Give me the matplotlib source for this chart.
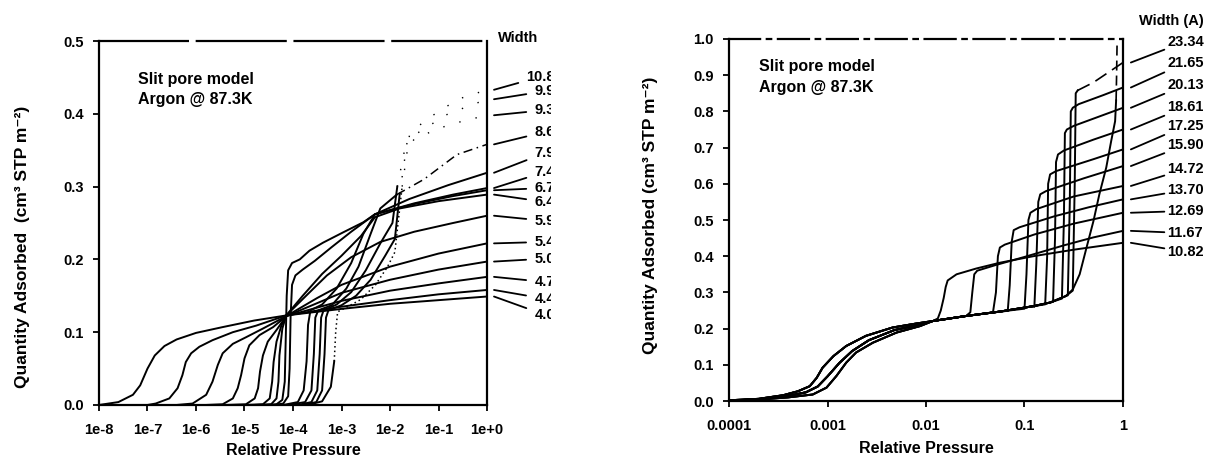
import matplotlib.pyplot as plt
import numpy as np
from matplotlib.ticker import NullLocator
from matplotlib.transforms import Bbox, TransformedBbox

plt.rcParams['font.family'] = ['Liberation Sans', 'DejaVu Sans']
plt.rcParams['font.weight'] = 'bold'
plt.rcParams['axes.labelweight'] = 'bold'

# ---------------- left panel: slit pores 4.0 - 10.8 A (log10 P/P0, quantity)
w40_lp = [-8.0, -7.6, -7.3, -7.15, -7.0, -6.85, -6.65, -6.4, -6.0, -5.45, -4.8, -4.14, -3.0, -2.0, -1.0, 0.0]
w40_q = [0.0, 0.004, 0.014, 0.027, 0.05, 0.068, 0.081, 0.09, 0.099, 0.107, 0.116, 0.123, 0.132, 0.139, 0.144, 0.149]
w44_lp = [-8.0, -7.0, -6.83, -6.55, -6.38, -6.28, -6.21, -6.10, -5.93, -5.66, -5.24, -4.76, -4.14, -3.0, -2.0, -1.0, 0.0]
w44_q = [0.0, 0.0, 0.002, 0.009, 0.023, 0.041, 0.059, 0.071, 0.080, 0.089, 0.100, 0.109, 0.123, 0.135, 0.144, 0.152, 0.158]
w47_lp = [-8.0, -6.4, -6.07, -5.79, -5.66, -5.55, -5.45, -5.24, -4.97, -4.62, -4.14, -3.0, -2.0, -1.0, 0.0]
w47_q = [0.0, 0.0, 0.002, 0.014, 0.032, 0.055, 0.071, 0.084, 0.093, 0.105, 0.122, 0.143, 0.157, 0.167, 0.176]
w50_lp = [-8.0, -5.8, -5.45, -5.24, -5.14, -5.07, -5.0, -4.9, -4.69, -4.41, -4.14, -3.0, -2.0, -1.0, 0.0]
w50_q = [0.0, 0.0, 0.001, 0.009, 0.023, 0.041, 0.064, 0.082, 0.096, 0.107, 0.122, 0.154, 0.172, 0.186, 0.197]
w54_lp = [-8.0, -5.4, -4.97, -4.79, -4.72, -4.68, -4.62, -4.52, -4.34, -4.14, -3.5, -3.0, -2.0, -1.0, 0.0]
w54_q = [0.0, 0.0, 0.001, 0.009, 0.023, 0.046, 0.068, 0.087, 0.103, 0.122, 0.147, 0.165, 0.19, 0.208, 0.222]
w59_lp = [-8.0, -5.0, -4.62, -4.48, -4.43, -4.40, -4.34, -4.24, -4.14, -3.7, -3.3, -2.8, -2.2, -1.5, -0.7, 0.0]
w59_q = [0.0, 0.0, 0.001, 0.009, 0.032, 0.059, 0.087, 0.109, 0.123, 0.152, 0.178, 0.203, 0.224, 0.238, 0.25, 0.26]
w64_lp = [-8.0, -4.8, -4.45, -4.34, -4.30, -4.28, -4.22, -4.14, -3.8, -3.4, -3.0, -2.6, -2.31, -1.8, -1.0, 0.0]
w64_q = [0.0, 0.0, 0.001, 0.009, 0.032, 0.068, 0.105, 0.123, 0.15, 0.18, 0.205, 0.232, 0.258, 0.27, 0.28, 0.289]
w67_lp = [-8.0, -4.6, -4.34, -4.22, -4.17, -4.15, -4.13, -4.10, -4.02, -3.86, -3.66, -3.38, -2.97, -2.55, -2.31, -1.5, -0.7, 0.0]
w67_q = [0.0, 0.0, 0.001, 0.007, 0.032, 0.09, 0.15, 0.185, 0.195, 0.2, 0.212, 0.223, 0.237, 0.251, 0.262, 0.276, 0.287, 0.295]
w74_lp = [-8.0, -4.4, -4.2, -4.1, -4.07, -4.05, -4.02, -3.95, -3.8, -3.55, -3.2, -2.8, -2.31, -1.5, -0.7, 0.0]
w74_q = [0.0, 0.0, 0.002, 0.012, 0.05, 0.12, 0.165, 0.178, 0.186, 0.198, 0.217, 0.238, 0.262, 0.277, 0.289, 0.298]
w79_lp = [-8.0, -4.2, -3.9, -3.78, -3.72, -3.69, -3.64, -3.4, -3.1, -2.8, -2.55, -2.31, -1.6, -0.8, 0.0]
w79_q = [0.0, 0.0, 0.004, 0.02, 0.06, 0.11, 0.13, 0.138, 0.16, 0.195, 0.235, 0.262, 0.283, 0.302, 0.319]
w86_lp = [-8.0, -4.1, -3.75, -3.62, -3.57, -3.54, -3.48, -3.2, -2.9, -2.65, -2.4, -2.2, -1.86, -1.3, -0.62, 0.0]
w86_q = [0.0, 0.0, 0.004, 0.02, 0.07, 0.12, 0.13, 0.137, 0.16, 0.19, 0.235, 0.27, 0.289, 0.31, 0.344, 0.358]
w93_lp = [-8.0, -3.9, -3.62, -3.5, -3.45, -3.42, -3.37, -3.1, -2.8, -2.5, -2.2, -1.95, -1.85, -1.7, -1.5, -1.0, -0.5, 0.0]
w93_q = [0.0, 0.0, 0.004, 0.02, 0.07, 0.12, 0.13, 0.138, 0.155, 0.185, 0.222, 0.25, 0.30, 0.35, 0.365, 0.38, 0.39, 0.398]
w99_lp = [-8.0, -3.8, -3.52, -3.4, -3.35, -3.32, -3.27, -3.0, -2.7, -2.4, -2.1, -1.9, -1.8, -1.65, -1.4, -0.8, 0.0]
w99_q = [0.0, 0.0, 0.004, 0.02, 0.07, 0.12, 0.13, 0.137, 0.15, 0.172, 0.205, 0.228, 0.29, 0.36, 0.375, 0.40, 0.42]
w108_lp = [-8.0, -3.7, -3.4, -3.22, -3.15, -3.12, -3.08, -2.9, -2.6, -2.3, -2.05, -1.9, -1.75, -1.6, -1.3, -0.6, 0.0]
w108_q = [0.0, 0.0, 0.005, 0.025, 0.06, 0.1, 0.128, 0.134, 0.145, 0.165, 0.19, 0.21, 0.3, 0.37, 0.39, 0.42, 0.433]

left_widths = ['10.8', '9.9', '9.3', '8.6', '7.9', '7.4', '6.7', '6.4', '5.9', '5.4', '5.0', '4.7', '4.4', '4.0']
left_lp = [w108_lp, w99_lp, w93_lp, w86_lp, w79_lp, w74_lp, w67_lp, w64_lp, w59_lp, w54_lp, w50_lp, w47_lp, w44_lp, w40_lp]
left_q = [w108_q, w99_q, w93_q, w86_q, w79_q, w74_q, w67_q, w64_q, w59_q, w54_q, w50_q, w47_q, w44_q, w40_q]
left_xticks = ['1e-8', '1e-7', '1e-6', '1e-5', '1e-4', '1e-3', '1e-2', '1e-1', '1e+0']

# ---------------- right panel: slit pores 10.82 - 23.34 A
band_a_lp = [-4.0, -3.7, -3.45, -3.3, -3.18, -3.11, -3.05, -2.94, -2.81, -2.61, -2.34, -2.1]
band_a_q = [0.002, 0.006, 0.016, 0.027, 0.041, 0.064, 0.092, 0.124, 0.152, 0.18, 0.203, 0.214]
band_b_lp = [-4.0, -3.7, -3.42, -3.22, -3.1, -3.0, -2.88, -2.75, -2.58, -2.32, -2.08]
band_b_q = [0.001, 0.005, 0.013, 0.024, 0.04, 0.068, 0.105, 0.138, 0.168, 0.196, 0.21]
band_c_lp = [-4.0, -3.7, -3.4, -3.15, -3.01, -2.91, -2.81, -2.71, -2.54, -2.30, -2.06]
band_c_q = [0.001, 0.004, 0.01, 0.018, 0.037, 0.069, 0.106, 0.134, 0.161, 0.189, 0.207]
shelf_lp = [-1.93, -1.59, -1.25, -0.91, -0.74, -0.58, -0.51]
shelf_q = [0.221, 0.235, 0.247, 0.262, 0.272, 0.29, 0.308]

r1082_lp = [-1.88, -1.85, -1.82, -1.8, -1.78, -1.69, -1.49, -1.25, -0.91, -0.5, 0.0]
r1082_q = [0.228, 0.25, 0.285, 0.315, 0.333, 0.35, 0.366, 0.382, 0.40, 0.418, 0.437]
r1167_lp = [-1.58, -1.55, -1.53, -1.51, -1.48, -1.3, -1.0, -0.6, -0.3, 0.0]
r1167_q = [0.238, 0.245, 0.3, 0.35, 0.36, 0.375, 0.398, 0.43, 0.452, 0.47]
r1269_lp = [-1.32, -1.29, -1.27, -1.25, -1.2, -0.9, -0.5, 0.0]
r1269_q = [0.245, 0.3, 0.4, 0.424, 0.432, 0.46, 0.49, 0.52]
r1370_lp = [-1.17, -1.15, -1.13, -1.11, -1.05, -0.7, -0.35, 0.0]
r1370_q = [0.249, 0.32, 0.44, 0.472, 0.48, 0.51, 0.535, 0.557]
r1472_lp = [-1.0, -0.98, -0.96, -0.94, -0.88, -0.5, 0.0]
r1472_q = [0.255, 0.35, 0.5, 0.52, 0.53, 0.565, 0.594]
r1590_lp = [-0.9, -0.88, -0.86, -0.84, -0.78, -0.4, 0.0]
r1590_q = [0.26, 0.38, 0.55, 0.571, 0.58, 0.615, 0.649]
r1725_lp = [-0.79, -0.77, -0.76, -0.74, -0.68, -0.3, 0.0]
r1725_q = [0.267, 0.4, 0.6, 0.626, 0.635, 0.668, 0.695]
r1861_lp = [-0.71, -0.69, -0.68, -0.66, -0.6, -0.3, 0.0]
r1861_q = [0.274, 0.45, 0.66, 0.681, 0.692, 0.722, 0.75]
r2013_lp = [-0.62, -0.60, -0.59, -0.57, -0.5, -0.25, 0.0]
r2013_q = [0.283, 0.5, 0.74, 0.75, 0.76, 0.785, 0.81]
r2165_lp = [-0.56, -0.54, -0.53, -0.51, -0.45, -0.2, 0.0]
r2165_q = [0.292, 0.55, 0.80, 0.81, 0.82, 0.845, 0.866]
r2334_lp = [-0.51, -0.49, -0.48, -0.46, -0.3, 0.0]
r2334_q = [0.305, 0.6, 0.85, 0.858, 0.88, 0.935]
rwide_lp = [-0.44, -0.37, -0.30, -0.24, -0.17, -0.12, -0.08, -0.07, -0.065, -0.06]
rwide_q = [0.35, 0.424, 0.497, 0.571, 0.645, 0.718, 0.773, 0.83, 0.9, 0.99]

right_widths = ['23.34', '21.65', '20.13', '18.61', '17.25', '15.90', '14.72', '13.70', '12.69', '11.67', '10.82']
right_lp = [r2334_lp, r2165_lp, r2013_lp, r1861_lp, r1725_lp, r1590_lp, r1472_lp, r1370_lp, r1269_lp, r1167_lp, r1082_lp]
right_q = [r2334_q, r2165_q, r2013_q, r1861_q, r1725_q, r1590_q, r1472_q, r1370_q, r1269_q, r1167_q, r1082_q]
right_xticks = ['0.0001', '0.001', '0.01', '0.1', '1']

# the scan lost parts of the large-pore curves: solid -> faded -> almost gone
left_fade_from = [-3.2, 9, 9, -2.2] + [9] * 10
left_fade_style = [(0, (1, 2)), '-', '-', (0, (6, 3, 1, 3))] + ['-'] * 10
left_gone_from = [-1.9, -1.9, -1.95] + [9] * 11
right_fade_from = [-0.48] + [9] * 10


def split_at(lp, q, cut):
    lp = np.asarray(lp)
    q = np.asarray(q)
    i = np.searchsorted(lp, cut, side='right')
    return (lp[:i + 1], q[:i + 1]), (lp[i:], q[i:])


fig = plt.figure(figsize=(12.13, 4.67), dpi=100)
axL = fig.add_axes([0.0816, 0.1328, 0.3199, 0.7794])
axR = fig.add_axes([0.601, 0.1413, 0.3248, 0.7752])

lw = 1.4

# left curves
for lp, q, cut, st, gone in zip(left_lp, left_q, left_fade_from, left_fade_style, left_gone_from):
    (m_lp, m_q), (g_lp, g_q) = split_at(lp, q, gone)
    (a_lp, a_q), (b_lp, b_q) = split_at(m_lp, m_q, cut)
    axL.plot(10.0 ** a_lp, a_q, color='black', lw=lw)
    if len(b_lp) > 1:
        axL.plot(10.0 ** b_lp, b_q, color='black', lw=1.1, linestyle=st)
    if len(g_lp) > 1:
        axL.plot(10.0 ** g_lp, g_q, color='black', lw=1.0, linestyle=(0, (1, 11)))

# right curves: shared low-pressure band + shelf + step
bands = [(band_a_lp, band_a_q), (band_b_lp, band_b_q), (band_c_lp, band_c_q)]
for k, (lp, q) in enumerate(zip(right_lp, right_q)):
    b_lp, b_q = bands[k % 3]
    s_lp = [v for v in shelf_lp if v < lp[0]]
    s_q = [v for v, x in zip(shelf_q, shelf_lp) if x < lp[0]]
    full_lp = list(b_lp) + s_lp + list(lp)
    full_q = list(b_q) + s_q + list(q)
    (a_lp, a_q), (c_lp, c_q) = split_at(full_lp, full_q, right_fade_from[k])
    axR.plot(10.0 ** a_lp, a_q, color='black', lw=lw)
    if len(c_lp) > 1:
        axR.plot(10.0 ** c_lp, c_q, color='black', lw=1.2, linestyle=(0, (8, 4)))

wide_lp = list(band_b_lp) + shelf_lp + rwide_lp
wide_q = list(band_b_q) + shelf_q + rwide_q
(a_lp, a_q), (c_lp, c_q) = split_at(wide_lp, wide_q, -0.08)
axR.plot(10.0 ** a_lp, a_q, color='black', lw=lw)
axR.plot(10.0 ** c_lp, c_q, color='black', lw=1.2, linestyle=(0, (6, 3)))

# axes styling
for ax in (axL, axR):
    ax.set_xscale('log')
    for s in ax.spines.values():
        s.set_linewidth(1.6)
    ax.tick_params(direction='out', length=4, width=1.3, labelsize=10.5)
    ax.xaxis.set_minor_locator(NullLocator())
    ax.tick_params(axis='x', pad=9)
    ax.tick_params(axis='y', pad=7)

axL.spines['top'].set_linestyle((0, (40, 4)))
axR.spines['top'].set_linestyle((0, (14, 3, 2, 3)))

axL.set_xlim(1e-8, 1)
axL.set_ylim(0, 0.5)
axL.set_xticks(10.0 ** np.arange(-8, 1), left_xticks)
axL.set_yticks(np.arange(0, 0.51, 0.1), ['0.0', '0.1', '0.2', '0.3', '0.4', '0.5'])

axR.set_xlim(1e-4, 1)
axR.set_ylim(0, 1.0)
axR.set_xticks(10.0 ** np.arange(-4, 1), right_xticks)
axR.set_yticks(np.arange(0, 1.01, 0.1), ['%.1f' % v for v in np.arange(0, 1.01, 0.1)])

for ax, ly in ((axL, -0.126), (axR, -0.13)):
    ax.set_xlabel('Relative Pressure', fontsize=11.5)
    ax.xaxis.set_label_coords(0.5, ly)
    ax.xaxis.label.set_va('center')

axL.set_ylabel('Quantity Adsorbed  (cm³ STP m⁻²)', fontsize=12.5)
axL.yaxis.set_label_coords(-0.198, 0.434)
axL.yaxis.label.set_va('center')
axR.set_ylabel('Quantity Adsorbed (cm³ STP m⁻²)', fontsize=12.5)
axR.yaxis.set_label_coords(-0.2, 0.514)
axR.yaxis.label.set_va('center')

axL.text(0.1, 0.893, 'Slit pore model', transform=axL.transAxes, fontsize=11.5, va='center')
axL.text(0.1, 0.838, 'Argon @ 87.3K', transform=axL.transAxes, fontsize=11.5, va='center')
axR.text(0.076, 0.925, 'Slit pore model', transform=axR.transAxes, fontsize=11.5, va='center')
axR.text(0.076, 0.867, 'Argon @ 87.3K', transform=axR.transAxes, fontsize=11.5, va='center')

# width labels with leader lines
axL.text(1.028, 0.504, 'Width', transform=axL.get_yaxis_transform(), fontsize=10.5, va='center')
left_label_q = [0.451, 0.431, 0.405, 0.375, 0.346, 0.320, 0.298, 0.279, 0.253, 0.224, 0.201, 0.169, 0.146, 0.124]
clip = TransformedBbox(Bbox([[0, 0], [551 / 1213, 1]]), fig.transFigure)
for name, q, ly in zip(left_widths, left_q, left_label_q):
    t = axL.annotate(name, xy=(1.018, q[-1]), xycoords=('axes fraction', 'data'),
                     xytext=(1.175, ly), textcoords=('axes fraction', 'data'),
                     ha='right', va='center', fontsize=10.5,
                     arrowprops=dict(arrowstyle='-', lw=1.3, color='black', shrinkA=4, shrinkB=0),
                     annotation_clip=False)
    t.set_clip_box(clip)
    t.set_clip_on(True)

axR.text(1.041, 1.05, 'Width (A)', transform=axR.get_yaxis_transform(), fontsize=10.5, va='center')
right_label_y = [0.993, 0.934, 0.873, 0.812, 0.76, 0.707, 0.641, 0.583, 0.525, 0.464, 0.412]
for name, q, ly in zip(right_widths, right_q, right_label_y):
    axR.annotate(name, xy=(1.02, q[-1]), xycoords=('axes fraction', 'data'),
                 xytext=(1.112, ly), textcoords='axes fraction',
                 ha='left', va='center', fontsize=10.5,
                 arrowprops=dict(arrowstyle='-', lw=1.3, color='black', shrinkA=0, shrinkB=0),
                 annotation_clip=False)

fig.savefig('out.png', dpi=100)
